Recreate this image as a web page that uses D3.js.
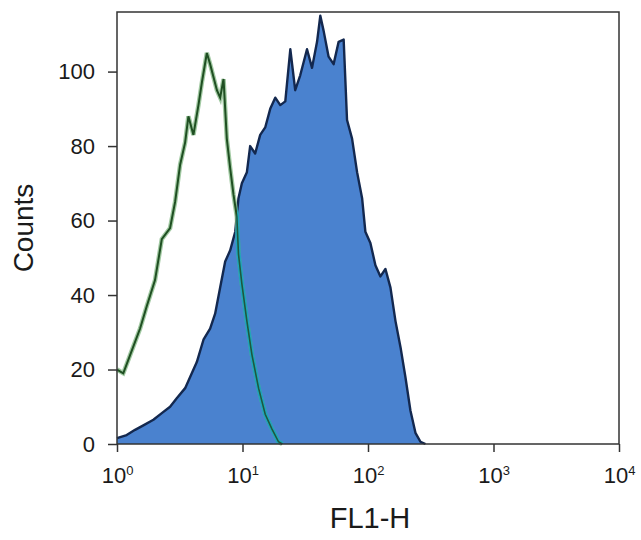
<!DOCTYPE html>
<html>
<head>
<meta charset="utf-8">
<script src="https://cdn.jsdelivr.net/npm/d3@7"></script>
<style>
  body { margin: 0; background: #fff; }
  svg { display: block; font-family: "Liberation Sans", Arial, sans-serif; }
</style>
</head>
<body>
<svg id="chart"></svg>
<script>
// FL1-H positions are in decades (log10 of FL1-H), counts per bin.
const greenLog = [0.0, 0.05, 0.117, 0.184, 0.237, 0.303, 0.357, 0.423, 0.463, 0.503,
  0.543, 0.569, 0.609, 0.649, 0.676, 0.716, 0.742, 0.796, 0.822, 0.849,
  0.875, 0.902, 0.928, 0.955, 0.968, 0.995, 1.035, 1.075, 1.128, 1.181,
  1.235, 1.287, 1.317];
const greenCounts = [20, 19, 25, 31, 37, 44, 55, 58, 65, 75,
  81, 88, 83, 91, 97, 105, 102, 95, 93, 98,
  82, 74, 67, 61, 51, 43, 33, 24, 15, 8,
  4, 0.6, 0];

const blueLog = [0.0, 0.077, 0.144, 0.21, 0.29, 0.357, 0.423, 0.476, 0.543, 0.596,
  0.636, 0.689, 0.742, 0.782, 0.822, 0.862, 0.902, 0.942, 0.968, 0.995,
  1.035, 1.061, 1.101, 1.141, 1.181, 1.221, 1.261, 1.301, 1.341, 1.381,
  1.42, 1.46, 1.514, 1.554, 1.594, 1.62, 1.646, 1.686, 1.726, 1.766,
  1.806, 1.833, 1.873, 1.913, 1.953, 1.979, 2.019, 2.059, 2.099, 2.139,
  2.179, 2.219, 2.259, 2.298, 2.338, 2.378, 2.418, 2.458];
const blueCounts = [1.6, 2.4, 3.8, 5, 6.5, 8.3, 10, 12.3, 15, 19,
  22, 28, 31, 35, 42, 49, 52, 57, 66, 70,
  73, 80, 78, 83, 85, 90, 93, 91, 92, 106,
  95, 99, 106, 101, 108, 115, 111, 104, 102, 108,
  108.6, 87, 82, 73, 66, 57, 54, 48, 45, 47,
  42, 33, 26, 18, 9, 3, 0.6, 0];

const xTickValues = [1, 10, 100, 1000, 10000];
const xTickExp = ["0", "1", "2", "3", "4"];
const yTickValues = [0, 20, 40, 60, 80, 100];

const width = 641, height = 540;
const margin = {top: 12, right: 22, bottom: 96, left: 117};

const svg = d3.select("#chart").attr("width", width).attr("height", height);

const xScale = d3.scaleLog()
  .domain([1, 10000])
  .range([margin.left, width - margin.right]);
const yScale = d3.scaleLinear()
  .domain([0, 116])
  .range([height - margin.bottom, margin.top]);

const blue = blueLog.map((d, i) => ({x: Math.pow(10, d), y: blueCounts[i]}));
const green = greenLog.map((d, i) => ({x: Math.pow(10, d), y: greenCounts[i]}));

const area = d3.area()
  .x(d => xScale(d.x))
  .y0(yScale(0))
  .y1(d => yScale(d.y));
const line = d3.line()
  .x(d => xScale(d.x))
  .y(d => yScale(d.y));

// clip for the part of the control curve lying over the filled histogram
svg.append("clipPath").attr("id", "blueClip")
  .append("path").attr("d", area(blue));

// filled histogram
svg.append("path")
  .attr("d", area(blue))
  .attr("fill", "#4a82cf");
svg.append("path")
  .attr("d", line(blue))
  .attr("fill", "none")
  .attr("stroke", "#13284f")
  .attr("stroke-width", 2.4)
  .attr("stroke-linejoin", "round");

// control histogram (outline only)
svg.append("path")
  .attr("d", line(green))
  .attr("fill", "none")
  .attr("stroke", "#79b27a")
  .attr("stroke-width", 4.5)
  .attr("stroke-opacity", 0.7);
svg.append("path")
  .attr("d", line(green))
  .attr("fill", "none")
  .attr("stroke", "#1f4f22")
  .attr("stroke-width", 2);

const over = svg.append("g").attr("clip-path", "url(#blueClip)");
over.append("path")
  .attr("d", line(green))
  .attr("fill", "none")
  .attr("stroke", "#1fa3bb")
  .attr("stroke-width", 4.5);
over.append("path")
  .attr("d", line(green))
  .attr("fill", "none")
  .attr("stroke", "#1d5a3e")
  .attr("stroke-width", 1.6);

// frame
svg.append("rect")
  .attr("x", margin.left)
  .attr("y", margin.top)
  .attr("width", width - margin.right - margin.left)
  .attr("height", height - margin.bottom - margin.top)
  .attr("fill", "none")
  .attr("stroke", "#333")
  .attr("stroke-width", 1.5);

// axes
const xAxis = svg.append("g")
  .attr("transform", `translate(0,${height - margin.bottom})`)
  .call(d3.axisBottom(xScale).tickValues(xTickValues).tickSize(8).tickFormat(""))
  .call(g => g.select(".domain").remove());
xAxis.selectAll(".tick line").attr("stroke", "#333").attr("stroke-width", 1.5);
xAxis.selectAll(".tick text")
  .attr("y", 39)
  .attr("dy", null)
  .attr("fill", "#1a1a1a")
  .attr("font-size", 22)
  .each(function(d, i) {
    const t = d3.select(this);
    t.append("tspan").text("10");
    t.append("tspan").attr("font-size", 13).attr("dy", -8).text(xTickExp[i]);
  });

const yAxis = svg.append("g")
  .attr("transform", `translate(${margin.left},0)`)
  .call(d3.axisLeft(yScale).tickValues(yTickValues).tickSize(9).tickPadding(13))
  .call(g => g.select(".domain").remove());
yAxis.selectAll(".tick line").attr("stroke", "#333").attr("stroke-width", 1.5);
yAxis.selectAll(".tick text")
  .attr("fill", "#1a1a1a")
  .attr("font-size", 22);

// axis titles
svg.append("text")
  .attr("transform", `translate(33,${(margin.top + height - margin.bottom) / 2}) rotate(-90)`)
  .attr("text-anchor", "middle")
  .attr("font-size", 28)
  .attr("fill", "#1a1a1a")
  .text("Counts");
svg.append("text")
  .attr("x", 370)
  .attr("y", 528)
  .attr("text-anchor", "middle")
  .attr("font-size", 29)
  .attr("fill", "#1a1a1a")
  .text("FL1-H");
</script>
</body>
</html>
